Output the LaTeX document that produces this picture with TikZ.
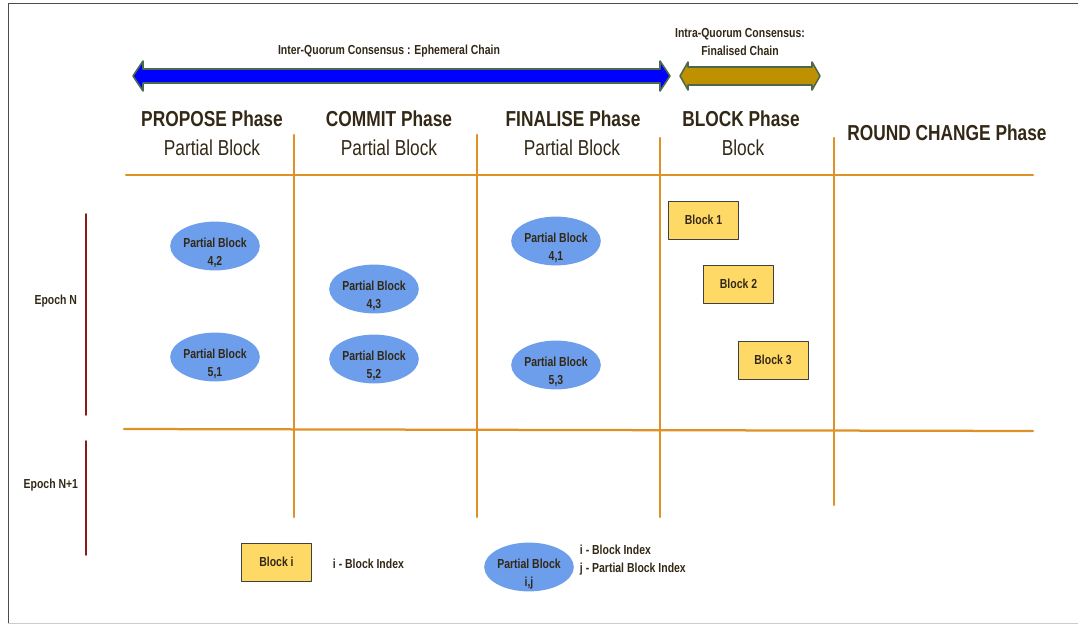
\documentclass[tikz,border=0pt]{standalone}
\usepackage{fontspec}
\setmainfont[FakeStretch=0.8]{Liberation Sans}
\usetikzlibrary{shapes.geometric}
\definecolor{ink}{RGB}{51,40,22}
\definecolor{gridline}{RGB}{222,146,38}
\definecolor{epochline}{RGB}{140,26,26}
\definecolor{pbfill}{RGB}{109,158,235}
\definecolor{blockfill}{RGB}{255,217,102}
\definecolor{arrowedge}{RGB}{75,105,75}
\definecolor{goldarrow}{RGB}{191,144,0}
\newcommand{\pbtext}[1]{\raisebox{-7.3pt}[0pt][0pt]{\begin{tabular}{@{}c@{}}Partial Block\\#1\end{tabular}}}
\tikzset{
  phasehead/.style={font=\fontsize{15.4}{17}\selectfont\bfseries,text=ink,inner sep=0pt},
  phasesub/.style={font=\fontsize{15.4}{17}\selectfont,text=ink,inner sep=0pt},
  smalltext/.style={font=\fontsize{9.3}{12.8}\selectfont\bfseries,text=ink},
  pblock/.style={ellipse,fill=pbfill,minimum width=2.2cm,minimum height=1.22cm,inner sep=0pt,smalltext},
  fblock/.style={rectangle,draw=black!75,fill=blockfill,minimum width=1.75cm,minimum height=0.95cm,inner sep=0pt,smalltext},
  gridrule/.style={gridline,line width=1.6pt},
  epochrule/.style={epochline,line width=1.2pt},
  chainarrow/.style={draw=arrowedge,line width=1.1pt},
  every picture/.style={line cap=round,line join=round}
}

\begin{document}
\begin{tikzpicture}[x=0.025cm,y=-0.025cm]
    \useasboundingbox (0,0) rectangle (1078,625);
    \draw[black!70,line width=0.6pt] (8,623) -- (8,3) -- (1078,3);
    \draw[black!20,line width=0.6pt] (8,623) -- (1078,623);

    % consensus arrows
    \filldraw[chainarrow,fill=blue] (133,76) -- (143,61) -- (143,69) -- (660,69) -- (660,61) -- (670,76)
        -- (660,91) -- (660,83) -- (143,83) -- (143,91) -- cycle;
    \node[smalltext] (interLbl) at (389,51) {Inter-Quorum Consensus : Ephemeral Chain};
    \filldraw[chainarrow,fill=goldarrow] (680,76) -- (688,62) -- (688,67) -- (812,67) -- (812,62) -- (820,76)
        -- (812,90) -- (812,85) -- (688,85) -- (688,90) -- cycle;
    \node[smalltext,align=center] (intraLbl) at (740,42) {Intra-Quorum Consensus:\\Finalised Chain};

    % phase headers
    \node[phasehead] (hPropose) at (212,119) {PROPOSE Phase};
    \node[phasesub]  (sPropose) at (212,148) {Partial Block};
    \node[phasehead] (hCommit) at (389,119) {COMMIT Phase};
    \node[phasesub]  (sCommit) at (389,148) {Partial Block};
    \node[phasehead] (hFinal) at (573,119) {FINALISE Phase};
    \node[phasesub]  (sFinal) at (572,148) {Partial Block};
    \node[phasehead] (hBlock) at (741,119) {BLOCK Phase};
    \node[phasesub]  (sBlock) at (743,148) {Block};
    \node[phasehead] (hRound) at (947,133) {ROUND CHANGE Phase};

    % grid
    \draw[gridrule] (126,175) -- (1033,175);
    \draw[gridrule] (124,429) -- (1033,431);
    \draw[gridrule] (294,135) -- (294,517);
    \draw[gridrule] (477,135) -- (477,517);
    \draw[gridrule] (660,138) -- (660,517);
    \draw[gridrule] (834,138) -- (834,505);

    % epochs
    \draw[epochrule] (86,214) -- (86,415);
    \draw[epochrule] (86,441) -- (86,555);
    \node[smalltext,anchor=east] (epN) at (82,301) {Epoch N};
    \node[smalltext,anchor=east] (epN1) at (83,485) {Epoch N+1};

    % partial blocks
    \node[pblock] (pb42) at (215,246) {\pbtext{4,2}};
    \node[pblock] (pb51) at (215,357) {\pbtext{5,1}};
    \node[pblock] (pb43) at (374,289) {\pbtext{4,3}};
    \node[pblock] (pb52) at (374,359) {\pbtext{5,2}};
    \node[pblock] (pb41) at (556,241) {\pbtext{4,1}};
    \node[pblock] (pb53) at (556,365) {\pbtext{5,3}};

    % finalised blocks
    \node[fblock] (blk1) at (703.5,220) {Block 1};
    \node[fblock] (blk2) at (738.5,284) {Block 2};
    \node[fblock] (blk3) at (773,360) {Block 3};

    % legend
    \node[fblock] (blki) at (276.5,562) {Block i};
    \node[smalltext,anchor=west] (legBlk) at (328,564) {i - Block Index};
    \node[pblock] (pbij) at (529,567) {\pbtext{i,j}};
    \node[smalltext,anchor=west,align=left] (legPb) at (575,560) {i - Block Index\\j - Partial Block Index};
\end{tikzpicture}
\end{document}
